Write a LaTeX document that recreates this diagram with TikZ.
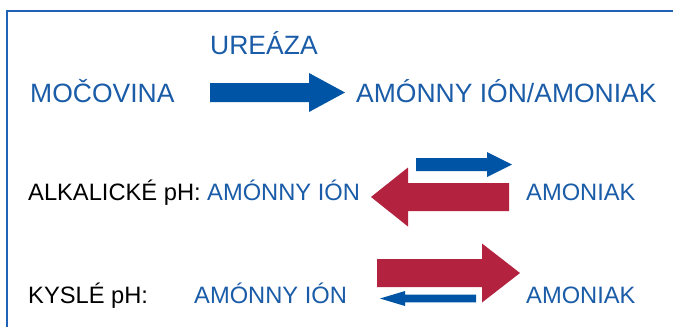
\documentclass[tikz,border=0pt]{standalone}
\usepackage{fontspec}
\setmainfont{Liberation Sans}
\definecolor{txtblue}{HTML}{1A5CA8}
\definecolor{arrblue}{HTML}{0054A5}
\definecolor{arrred}{HTML}{B3233F}
\definecolor{frameblue}{HTML}{1F63B8}
\newcommand\fatarrow[7]{%
  % #1 colour, #2 tail x, #3 head base x, #4 tip x, #5 centre y, #6 half shaft, #7 half head
  \fill[#1] (#2,#5-#6) -- (#3,#5-#6) -- (#3,#5-#7) -- (#4,#5) -- (#3,#5+#7) -- (#3,#5+#6) -- (#2,#5+#6) -- cycle;}
\begin{document}
\begin{tikzpicture}[x=1pt,y=-1pt,
  big/.style={inner sep=0pt,anchor=base west,text=txtblue,font=\fontsize{26.5}{30}\selectfont},
  small/.style={inner sep=0pt,anchor=base west,text=txtblue,font=\fontsize{23.7}{27}\selectfont},
  smallblack/.style={small,text=black}]
\useasboundingbox (0,0) rectangle (673,327);
\fill[white] (0,0) rectangle (673,327);
\draw[frameblue,line width=2pt] (674,11) -- (6.7,11) -- (6.7,328);
% top row
\node[big] (urease) at (210,54) {UREÁZA};
\node[big] (urea) at (30,102) {MOČOVINA};
\node[big] (prod) at (356,102) {AMÓNNY IÓN/AMONIAK};
\fatarrow{arrblue}{210}{309}{345}{92.5}{9.5}{19.5}
% alkaline row
\node[smallblack] (alk) at (28,200) {ALKALICKÉ pH:};
\node[small] (alkion) at (207,200) {AMÓNNY IÓN};
\node[small] (alkam) at (526,200) {AMONIAK};
\fatarrow{arrblue}{416}{487}{512}{164.5}{6.5}{12.5}
\fatarrow{arrred}{509}{408}{371}{197}{14}{29.5}
% acid row
\node[smallblack] (acid) at (28,303) {KYSLÉ pH:};
\node[small] (acidion) at (194,303) {AMÓNNY IÓN};
\node[small] (acidam) at (526,303) {AMONIAK};
\fatarrow{arrred}{377}{482}{520}{273}{14}{29.5}
\fatarrow{arrblue}{476}{405}{380}{298.5}{3.8}{7.5}
\end{tikzpicture}
\end{document}
